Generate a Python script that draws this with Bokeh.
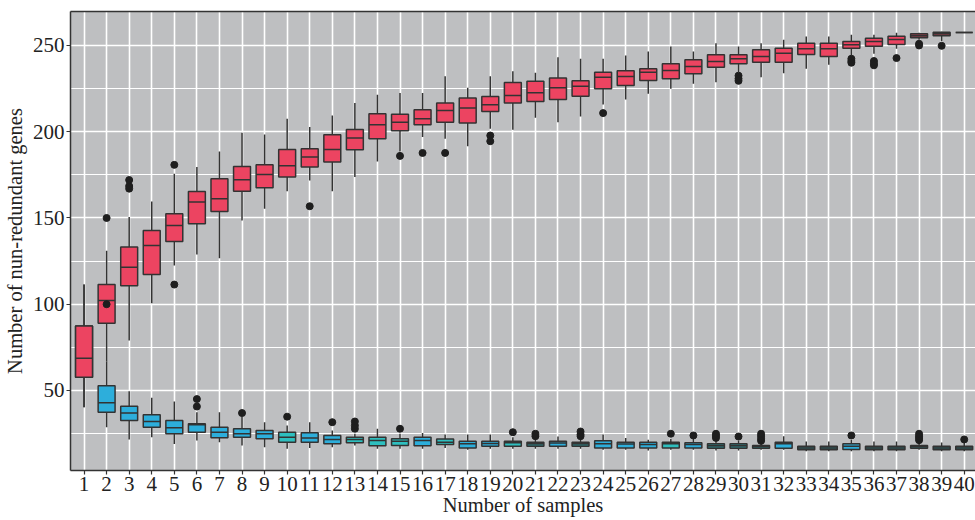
from bokeh.plotting import figure
from bokeh.models import Range1d, FixedTicker, LinearAxis
from bokeh.embed import file_html
from bokeh.resources import INLINE

# ---------------- data ----------------
samples = list(range(1, 41))

# pan genome (number of non-redundant genes)
pan_low = [40.3, 67, 79, 100.6, 122.5, 128.8, 126.7, 148.6, 155.3, 165.5,
           171.7, 165.5, 173.7, 182.8, 188.5, 197, 195.9, 191.6, 201.7, 201.1,
           208.1, 205.5, 208.8, 215.8, 218.7, 222, 224.9, 227.8, 228.7, 234.5,
           231.6, 233.9, 236.5, 238.8, 244.2, 245.2, 248.1, 253.3, 252.5, 257.5]
pan_q1 = [57.7, 89, 110.7, 117.2, 136.4, 146.6, 153.8, 165.5, 167.5, 173.7,
          179.5, 182.4, 189.5, 195.9, 200.5, 204, 205.5, 205, 211.7, 216.6,
          217.5, 218.7, 220.6, 224.9, 226.8, 229.7, 230.7, 233.6, 237.4, 239.4,
          240.3, 240.3, 244.8, 243.6, 248.4, 249.6, 250.6, 254.5, 255.6, 257.5]
pan_med = [68.7, 102.2, 121.5, 134.1, 145.7, 159.2, 161.1, 172.2, 175.2, 180.3,
           185.3, 189.7, 196.3, 204, 205.5, 207.5, 212.3, 213.7, 215.6, 221,
           222.6, 225.5, 226.4, 231.6, 232, 234.5, 235.5, 237.8, 240.7, 242.3,
           243.6, 245.5, 248.1, 248.1, 250.4, 252.3, 253.5, 255.6, 256.8, 257.5]
pan_q3 = [87.3, 111.4, 133.1, 142.8, 152.4, 165.4, 172.7, 179.9, 180.8, 189.7,
          190.1, 198.2, 201.3, 210.4, 210.2, 212.7, 216.6, 219.5, 220.4, 228.6,
          229.3, 231.1, 229.5, 234.5, 235.3, 236.5, 239.4, 241.7, 244.6, 244.6,
          247.5, 248.4, 251.3, 251.3, 252.3, 254.2, 255.4, 256.8, 257.7, 257.5]
pan_high = [111.4, 131, 150.5, 159.6, 175.6, 179.5, 188.6, 199.4, 198.4, 207.5,
            202.7, 209.4, 216.6, 221.4, 222.4, 222.4, 232.2, 225.5, 232.2, 235.1,
            234.2, 243.2, 242.3, 242.3, 244.2, 246.5, 249.4, 246.5, 251.3, 249.4,
            251.3, 253.3, 255.2, 255.2, 256.2, 256.2, 257.4, 257.4, 258, 257.5]
pan_out_x = [2, 2, 3, 3, 3, 5, 5, 11, 15, 16, 17, 19, 19, 24, 30, 30, 30,
             35, 35, 35, 36, 36, 36, 37, 38, 38, 39]
pan_out_y = [100, 150, 167, 168.5, 172, 180.8, 111.4, 156.8, 186, 187.7, 187.7,
             197.8, 194.5, 210.8, 232.5, 230.8, 229.5, 242.3, 241, 240,
             241, 239.5, 238.5, 242.7, 251, 250, 249.8]

# core genome
core_low = [40.3, 28.7, 21.6, 22.9, 19, 21, 20, 18.1, 17.1, 16.2,
            16.7, 17.1, 18.1, 16.2, 16.2, 16.2, 16.7, 15.6, 16.2, 16.2,
            16.2, 16.2, 16.2, 15.6, 15.6, 15.2, 15.6, 15.6, 15.2, 15.2,
            15.6, 15.6, 14.8, 14.8, 14.8, 14.8, 14.8, 15.6, 14.8, 14.8]
core_q1 = [57.7, 37.4, 32.6, 28.7, 24.9, 25.8, 22.6, 22.9, 22, 20,
           20, 19.1, 19.7, 17.9, 18.1, 17.9, 18.7, 16.7, 17.7, 17.7,
           17.7, 17.7, 17.7, 16.7, 16.7, 16.7, 16.7, 16.7, 16.5, 16.5,
           16.5, 16.5, 15.6, 15.6, 15.8, 15.6, 15.6, 16.5, 15.6, 15.6]
core_med = [68.7, 42.9, 37, 32, 28.4, 30.1, 25.8, 24.9, 24.9, 22.9,
            22.4, 21.6, 21.6, 21, 20.6, 21, 20, 19.1, 19.3, 19.7,
            19.1, 19.5, 19.1, 19.1, 18.9, 18.7, 19.1, 18.7, 17.9, 18,
            17.5, 19.1, 16.7, 16.7, 17.7, 16.7, 16.7, 17.3, 16.7, 16.7]
core_q3 = [87.3, 52.7, 40.9, 35.9, 32.6, 30.7, 28.7, 27.8, 26.8, 25.8,
           25.5, 23.9, 22.9, 22.9, 22, 22.9, 21.8, 20.6, 20.6, 20.6,
           20, 20.6, 20, 20.8, 20, 20, 20, 19.7, 19.1, 19.1,
           18.1, 20, 17.7, 17.7, 19.1, 17.7, 17.7, 18.1, 17.7, 17.7]
core_high = [111.4, 67, 49.6, 45.8, 43.6, 37.4, 37.4, 34.6, 31.6, 29.7,
             31.6, 26.8, 24.9, 27.8, 24.9, 25.3, 24.5, 24.5, 24.5, 22.9,
             22, 23.3, 22, 24.5, 22.4, 21.4, 22, 22, 21, 21,
             20, 23.5, 20.4, 20.4, 21.4, 20.4, 20.4, 19.8, 19.8, 19.8]
core_out_x = [6, 6, 8, 10, 12, 13, 13, 13, 15, 20, 21, 21, 23, 23, 23, 27, 28,
              29, 29, 29, 30, 31, 31, 31, 31, 35, 38, 38, 38, 38, 40]
core_out_y = [40.7, 45, 36.9, 34.8, 31.6, 27.8, 29.7, 32, 27.8, 25.8, 23.5, 24.9,
              23.5, 24.5, 26.2, 24.9, 23.9, 22.5, 23.7, 24.9, 23.3,
              20.8, 22, 23.5, 24.9, 23.9, 21.2, 22.4, 23.5, 24.9, 21.6]

y_ticks = [50, 100, 150, 200, 250]
y_minor = [25, 75, 125, 175, 225]

# ---------------- styles ----------------
RED = "#EC4461"
DARKRED = "#9C3F4C"
BLUE = "#2DAEDB"
TEAL = "#2EBFBF"
DTEAL = "#2B7F82"
pan_fill = [RED] * 37 + [DARKRED, DARKRED, DARKRED]
core_key = "BBBBBBBBBTBBTTTBTBBTDBDBBBTBDDDBDDBDDDDD"
core_fill = [{"B": BLUE, "T": TEAL, "D": DTEAL}[k] for k in core_key]
EDGE = "#333333"
FONT = "Liberation Serif"
BOXW = 0.75

p = figure(width=975, height=520,
           x_range=Range1d(0.4, 40.5), y_range=Range1d(3.6, 269.7),
           output_backend="svg", toolbar_location=None,
           min_border_left=70, min_border_right=0,
           min_border_top=11, min_border_bottom=50)
p.background_fill_color = "#BEBFC1"
p.border_fill_color = "white"
p.outline_line_color = None

# grid
p.xgrid.ticker = FixedTicker(ticks=samples)
p.xgrid.grid_line_color = "white"
p.xgrid.grid_line_width = 1.6
p.ygrid.ticker = FixedTicker(ticks=y_ticks, minor_ticks=y_minor)
p.ygrid.grid_line_color = "white"
p.ygrid.grid_line_width = 1.6
p.ygrid.minor_grid_line_color = "white"
p.ygrid.minor_grid_line_width = 1.0

# axes
p.xaxis.ticker = FixedTicker(ticks=samples)
p.yaxis.ticker = FixedTicker(ticks=y_ticks)
for ax in (p.xaxis[0], p.yaxis[0]):
    ax.axis_line_color = EDGE
    ax.axis_line_width = 1.5
    ax.major_tick_line_color = EDGE
    ax.major_tick_line_width = 1.2
    ax.major_tick_in = 0
    ax.major_tick_out = 4
    ax.minor_tick_line_color = None
    ax.major_label_text_font = FONT
    ax.major_label_text_font_size = "21px"
    ax.major_label_text_color = "#222222"
    ax.major_label_standoff = 2
    ax.axis_label_text_font = FONT
    ax.axis_label_text_font_size = "20.5px"
    ax.axis_label_text_font_style = "normal"
    ax.axis_label_text_color = "#222222"
p.xaxis.axis_label = "Number of samples"
p.yaxis.axis_label = "Number of nun-redundant genes"
p.xaxis.axis_label_standoff = 0
p.yaxis.axis_label_standoff = 4

top_axis = LinearAxis(ticker=FixedTicker(ticks=[]),
                      axis_line_color=EDGE, axis_line_width=1.5,
                      major_tick_line_color=None, minor_tick_line_color=None,
                      major_label_standoff=0)
p.add_layout(top_axis, "above")


def draw(low, q1, med, q3, high, fills, ox, oy):
    p.segment(x0=samples, y0=q3, x1=samples, y1=high, line_color=EDGE, line_width=1.5)
    p.segment(x0=samples, y0=q1, x1=samples, y1=low, line_color=EDGE, line_width=1.5)
    p.vbar(x=samples, width=BOXW, bottom=q1, top=q3, fill_color=fills,
           line_color=EDGE, line_width=1.5)
    p.vbar(x=samples, width=BOXW, bottom=med, top=med, fill_color=None,
           line_color=EDGE, line_width=1.5)
    p.scatter(x=ox, y=oy, size=7, fill_color="#1E1E1E", line_color="#1E1E1E")


draw(core_low, core_q1, core_med, core_q3, core_high, core_fill, core_out_x, core_out_y)
draw(pan_low, pan_q1, pan_med, pan_q3, pan_high, pan_fill, pan_out_x, pan_out_y)

open("out.html", "w").write(file_html(p, INLINE))
